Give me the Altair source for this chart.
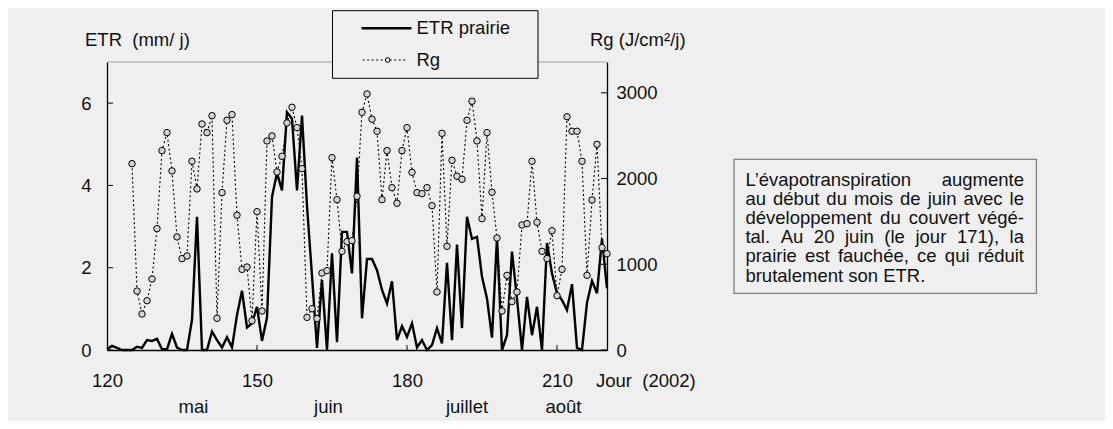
import altair as alt
import pandas as pd

# ---------------- data ----------------
etr_days = list(range(120, 221))
etr_values = [
    0.02, 0.10, 0.05, 0.00, 0.00, 0.00, 0.08, 0.05, 0.24, 0.22,   # 120-129
    0.27, 0.02, 0.02, 0.39, 0.06, 0.00, 0.00, 0.73, 3.24, 0.00,   # 130-139
    0.00, 0.45, 0.24, 0.06, 0.31, 0.06, 0.85, 1.44, 0.55, 0.65,   # 140-149
    1.05, 0.22, 0.79, 3.72, 4.30, 3.88, 5.78, 5.62, 3.88, 5.70,   # 150-159
    3.50, 1.80, 0.05, 1.70, 0.00, 2.35, 0.19, 2.87, 2.87, 1.86,   # 160-169
    4.68, 0.77, 2.21, 2.21, 1.94, 1.46, 1.13, 1.67, 0.24, 0.58,   # 170-179
    0.32, 0.65, 0.06, 0.24, 0.00, 0.12, 0.53, 0.16, 2.12, 0.24,   # 180-189
    2.56, 0.53, 3.24, 2.70, 2.75, 1.78, 1.25, 0.30, 2.73, 0.00,   # 190-199
    0.36, 2.39, 1.25, 0.00, 1.29, 0.36, 1.05, 0.00, 2.60, 1.86,   # 200-209
    1.38, 1.21, 0.97, 1.60, 0.05, 0.00, 1.15, 1.68, 1.38, 2.71,   # 210-219
    1.50,                                                         # 220
]
rg_days = list(range(125, 221))
rg_values = [
    2174, 688, 420, 575, 828,                                     # 125-129
    1416, 2326, 2536, 2089, 1319, 1066, 1097, 2202, 1879, 2637,   # 130-139
    2536, 2734, 370, 1836, 2680, 2746, 1572, 941, 968, 342,       # 140-149
    1614, 455, 2439, 2497, 2077, 2260, 2649, 2832, 2594, 2116,    # 150-159
    381, 482, 366, 898, 926, 2244, 1754, 1151, 1264, 1276,        # 160-169
    1793, 2773, 2987, 2692, 2552, 1754, 2326, 1894, 1712, 2326,   # 170-179
    2594, 2073, 1836, 1824, 1894, 1684, 677, 2528, 1210, 2213,    # 180-189
    2027, 1992, 2680, 2902, 2439, 1532, 2536, 1840, 1307, 455,    # 190-199
    871, 564, 677, 1459, 1474, 2202, 1490, 1151, 1066, 1392,      # 200-209
    634, 941, 2722, 2552, 2552, 2202, 871, 1750, 2400, 1194,      # 210-219
    1124,                                                         # 220
]
left_ticks = [0, 2, 4, 6]
right_ticks = [0, 1000, 2000, 3000]
x_ticks = [120, 150, 180, 210]
month_labels = ["mai", "juin", "juillet", "août"]
month_days = [137.3, 164.3, 192.0, 211.3]
legend_labels = ["ETR prairie", "Rg"]
note_lines = [
    "L’évapotranspiration augmente",
    "au début du mois de juin avec le",
    "développement du couvert végé-",
    "tal. Au 20 juin (le jour 171), la",
    "prairie est fauchée, ce qui réduit",
    "brutalement son ETR.",
]

# ---------------- style ----------------
W, H = 500, 288
BG = "#EFEFEF"
FONT = "Liberation Sans"
FS = 18.5
TXT = "#111111"
NB = "\u00a0"

etr_df = pd.DataFrame({"day": etr_days, "etr": etr_values})
rg_df = pd.DataFrame({"day": rg_days, "rg": rg_values})
lt_df = pd.DataFrame({"etr": left_ticks})
rt_df = pd.DataFrame({"rg": right_ticks})
xt_df = pd.DataFrame({"day": x_ticks[1:]})
mo_df = pd.DataFrame({"day": month_days, "label": month_labels})
one = pd.DataFrame({"k": [0]})

x_scale = alt.Scale(domain=[120, 220], nice=False, zero=False)
x_axis = alt.Axis(values=x_ticks, ticks=False, grid=False, domainColor="black",
                  domainWidth=1.3, labelFontSize=FS, labelFont=FONT, labelColor=TXT,
                  labelPadding=21, labelFlush=False, title=None)


def X():
    return alt.X("day:Q", scale=x_scale, axis=x_axis)


def Y_etr():
    return alt.Y("etr:Q", scale=alt.Scale(domain=[0, 7], nice=False),
                 axis=alt.Axis(values=left_ticks, ticks=False, grid=False, domainColor="black",
                               domainWidth=1.3, labelFontSize=FS, labelFont=FONT,
                               labelColor=TXT, labelPadding=16, labelFlush=False, title=None))


def Y_rg():
    return alt.Y("rg:Q", scale=alt.Scale(domain=[0, 3360], nice=False),
                 axis=alt.Axis(orient="right", values=right_ticks, ticks=False, grid=False,
                               domainColor="black", domainWidth=1.3, labelFontSize=FS,
                               labelFont=FONT, labelColor=TXT, labelPadding=9,
                               labelFlush=False, format="d", title=None))


# ---- ETR (left scale) ----
etr_line = alt.Chart(etr_df).mark_line(color="black", strokeWidth=2.4).encode(x=X(), y=Y_etr())
left_tick_marks = alt.Chart(lt_df).mark_rule(color="black", strokeWidth=1).encode(
    y=Y_etr(), x=alt.value(0), x2=alt.value(6))
x_tick_marks = alt.Chart(xt_df).mark_rule(color="black", strokeWidth=1).encode(
    x=X(), y=alt.value(H), y2=alt.value(H - 5))
top_line = alt.Chart(one).mark_rule(color="#A0A0A0", strokeWidth=1).encode(
    x=alt.value(0), x2=alt.value(W), y=alt.value(0))
months = alt.Chart(mo_df).mark_text(font=FONT, fontSize=FS, color=TXT, baseline="middle").encode(
    x=X(), y=alt.value(H + 57), text="label:N")


def label(txt, x, y, align="left", baseline="middle"):
    return alt.Chart(one).mark_text(text=txt, font=FONT, fontSize=FS, color=TXT,
                                    align=align, baseline=baseline).encode(
        x=alt.value(x), y=alt.value(y))


titles = [
    label("ETR " + NB + "(mm/ j)", -22, -22),
    label("Rg (J/cm²/j)", 483, -22),
    label("Jour " + NB + "(2002)", 489, H + 31),
]

# legend box
leg_box = alt.Chart(one).mark_rect(fill=BG, stroke="black", strokeWidth=1).encode(
    x=alt.value(225.5), x2=alt.value(431), y=alt.value(-51.3), y2=alt.value(16.3))
leg_l1 = alt.Chart(one).mark_rule(color="black", strokeWidth=2.4).encode(
    x=alt.value(254.5), x2=alt.value(304.5), y=alt.value(-33.7))
leg_l2 = alt.Chart(one).mark_rule(color="black", strokeWidth=1, strokeDash=[2, 2.5]).encode(
    x=alt.value(255.7), x2=alt.value(300.7), y=alt.value(-2))
leg_pt = alt.Chart(one).mark_point(shape="circle", filled=True, fill=BG, stroke="black",
                                   strokeWidth=1, size=22, opacity=1).encode(
    x=alt.value(280.7), y=alt.value(-2))
leg_t = [label(legend_labels[0], 309.5, -33.7), label(legend_labels[1], 309.5, -2)]

# note box with justified text (Arial / Liberation Sans advance widths, per 1000 em)
ADV = {" ": 278, "’": 222, ".": 278, ",": 278, "(": 333, ")": 333, "-": 333,
       "A": 667, "E": 667, "L": 556, "R": 722, "T": 611,
       "a": 556, "b": 556, "c": 500, "d": 556, "e": 556, "f": 278, "g": 556, "h": 556,
       "i": 222, "j": 222, "l": 222, "m": 833, "n": 556, "o": 556, "p": 556, "q": 556,
       "r": 333, "s": 500, "t": 278, "u": 556, "v": 500, "é": 556, "û": 556}


def text_width(s):
    return sum(ADV.get(ch, 556) for ch in s) * FS / 1000.0


NOTE_L, NOTE_R = 638.4, 917.0
note_box = alt.Chart(one).mark_rect(fill=BG, stroke="#808080", strokeWidth=1.3).encode(
    x=alt.value(627), x2=alt.value(929.4), y=alt.value(97.3), y2=alt.value(231.3))
note_txt = []
for i, line in enumerate(note_lines):
    yb = 124 + 19.1 * i
    words = line.split(" ")
    if i == len(note_lines) - 1 or len(words) == 1:
        note_txt.append(label(line, NOTE_L, yb, baseline="alphabetic"))
        continue
    total = sum(text_width(w) for w in words)
    gap = (NOTE_R - NOTE_L - total) / (len(words) - 1)
    xpos = NOTE_L
    for w in words:
        note_txt.append(label(w, xpos, yb, baseline="alphabetic"))
        xpos += text_width(w) + gap

left_layer = alt.layer(top_line, etr_line, left_tick_marks, x_tick_marks, months,
                       *titles, leg_box, leg_l1, leg_l2, leg_pt, *leg_t, note_box, *note_txt)

# ---- Rg (right scale) ----
rg_line = alt.Chart(rg_df).mark_line(color="black", strokeWidth=1.1, strokeDash=[2, 2.5]).encode(
    x=X(), y=Y_rg())
rg_pts = alt.Chart(rg_df).mark_point(shape="circle", filled=True, fill="#D4D4D4", stroke="black",
                                     strokeWidth=1, size=42, opacity=1).encode(x=X(), y=Y_rg())
right_tick_marks = alt.Chart(rt_df).mark_rule(color="black", strokeWidth=1).encode(
    y=Y_rg(), x=alt.value(W), x2=alt.value(W - 6))

right_layer = alt.layer(rg_line, rg_pts, right_tick_marks)

chart = alt.layer(left_layer, right_layer).resolve_scale(y="independent").properties(
    width=W, height=H,
    autosize=alt.AutoSizeParams(type="none"),
    padding={"left": 99, "top": 54, "right": 1097 - 99 - W, "bottom": 413 - 54 - H},
    background=BG,
).configure_view(strokeWidth=0)

chart.save("out.html", embed_options={"renderer": "svg", "actions": False})
